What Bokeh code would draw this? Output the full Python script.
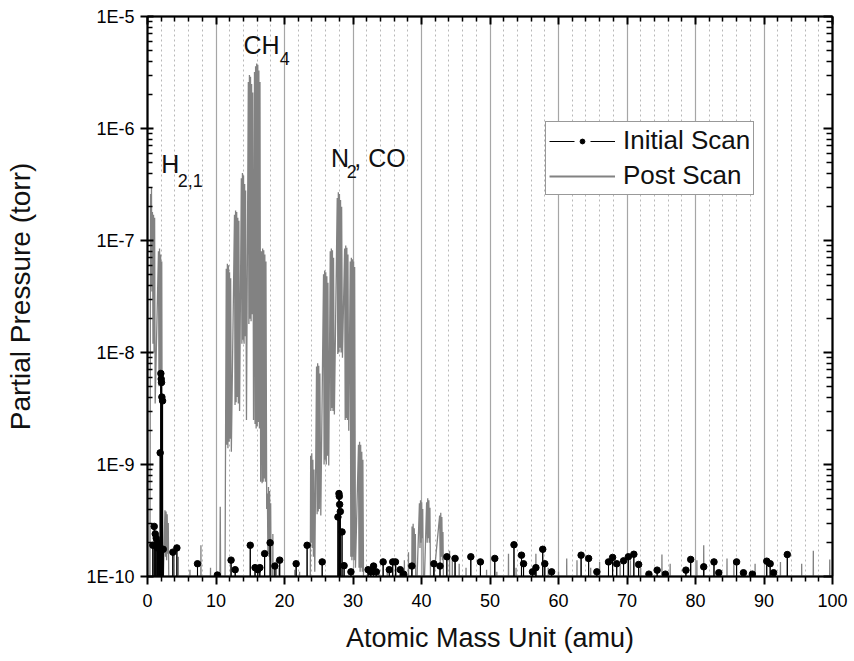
from bokeh.plotting import figure
from bokeh.models import (FixedTicker, LogAxis, LinearAxis, Legend, LegendItem,
                          CustomJSTickFormatter, Label, Range1d)
from bokeh.embed import file_html
from bokeh.resources import INLINE

FLOOR = 5e-11  # readings below the 1E-10 display limit of the chart

# ---------------- Initial scan (visible readings) ----------------
init_amu = [0.78, 0.98, 1.13, 1.27, 1.45, 1.61, 1.76, 1.85, 1.95, 2.0,
            2.05, 2.1, 2.2, 2.3, 3.7, 4.29, 7.3, 10.2, 12.2, 12.8,
            15.0, 15.7, 16.1, 16.4, 17.1, 17.9, 18.6, 19.3, 21.7, 23.3,
            25.5, 27.8, 27.95, 28.0, 28.05, 28.15, 28.4, 28.7, 29.7, 32.2,
            32.6, 33.0, 33.4, 34.4, 35.3, 35.8, 36.2, 36.9, 37.4, 38.6,
            41.8, 42.7, 43.7, 44.9, 47.2, 48.6, 50.7, 53.5, 54.6, 54.9,
            56.2, 56.7, 57.7, 58.0, 59.0, 63.3, 64.4, 65.6, 67.3, 67.9,
            68.5, 69.5, 70.2, 71.0, 71.7, 73.2, 74.4, 75.6, 78.6, 79.3,
            81.2, 82.7, 83.4, 86.0, 87.0, 88.3, 90.4, 90.9, 91.4, 93.4]
init_torr = [1.9e-10, 2.8e-10, 2.4e-10, 2.2e-10, 1.8e-10, 2.0e-10, 1.8e-10, 1.27e-9, 6.5e-9, 5.8e-9,
             5.4e-9, 4.0e-9, 3.7e-9, 1.75e-10, 1.65e-10, 1.8e-10, 1.3e-10, 1.03e-10, 1.4e-10, 1.15e-10,
             1.9e-10, 1.2e-10, 1.15e-10, 1.2e-10, 1.6e-10, 2.0e-10, 1.24e-10, 1.4e-10, 1.3e-10, 1.9e-10,
             1.35e-10, 3.4e-10, 5.5e-10, 5.2e-10, 4.4e-10, 3.8e-10, 2.5e-10, 1.25e-10, 1.1e-10, 1.15e-10,
             1.1e-10, 1.24e-10, 1.1e-10, 1.35e-10, 1.15e-10, 1.35e-10, 1.35e-10, 1.15e-10, 1.05e-10, 1.24e-10,
             1.3e-10, 1.24e-10, 1.5e-10, 1.45e-10, 1.5e-10, 1.35e-10, 1.45e-10, 1.92e-10, 1.55e-10, 1.3e-10,
             1.1e-10, 1.2e-10, 1.75e-10, 1.3e-10, 1.1e-10, 1.55e-10, 1.45e-10, 1.1e-10, 1.35e-10, 1.48e-10,
             1.3e-10, 1.38e-10, 1.5e-10, 1.58e-10, 1.28e-10, 1.05e-10, 1.14e-10, 1.05e-10, 1.14e-10, 1.42e-10,
             1.22e-10, 1.35e-10, 1.08e-10, 1.35e-10, 1.08e-10, 1.05e-10, 1.37e-10, 1.3e-10, 1.08e-10, 1.57e-10]

# ---------------- Post scan (dense readings around the gas peaks) ----------------
post_h_amu = [0.35, 0.45, 0.52, 0.58, 0.65, 0.72, 0.8, 0.88, 0.96, 1.04,
              1.12, 1.6, 1.68, 1.76, 1.84, 1.92, 2.0, 2.08, 2.2, 2.55,
              2.63, 2.71, 2.79, 2.87, 2.95, 3.03, 3.15]
post_h_torr = [FLOOR, 2.6e-7, 4.0e-8, 3.0e-7, 3.5e-8, 1.8e-7, 1.2e-8, 1.7e-7, 1.0e-8, 1.6e-7,
               3.5e-9, 8.0e-8, 5.0e-9, 8.5e-8, 6.0e-9, 7.5e-8, 4.5e-9, 6.5e-8, FLOOR, 3.9e-10,
               1.5e-10, 3.8e-10, 1.4e-10, 3.6e-10, 1.6e-10, 3.0e-10, FLOOR]

post_ch4_amu = [10.55, 10.62, 10.7, 11.3, 11.4, 11.5, 11.58, 11.66, 11.74, 11.82,
                11.9, 11.98, 12.06, 12.14, 12.24, 12.7, 12.78, 12.86, 12.94, 13.02,
                13.1, 13.18, 13.26, 13.34, 13.44, 13.7, 13.78, 13.86, 13.94, 14.02,
                14.1, 14.18, 14.26, 14.32, 14.45, 14.72, 14.8, 14.88, 14.96, 15.04,
                15.12, 15.2, 15.28, 15.36, 15.48, 15.62, 15.7, 15.78, 15.86, 15.94,
                16.02, 16.1, 16.18, 16.26, 16.34, 16.42, 16.52, 16.65, 16.73, 16.81,
                16.89, 16.97, 17.05, 17.13, 17.21, 17.29, 17.4, 17.5, 17.58, 17.66,
                17.74, 17.82, 17.9, 17.98, 18.08]
post_ch4_torr = [FLOOR, 4.2e-10, FLOOR, FLOOR, 2.0e-9, 5.6e-8, 1.5e-9, 6.2e-8, 1.4e-9, 6.0e-8,
                 1.6e-9, 5.2e-8, 1.7e-9, 4.6e-8, 1.3e-9, 1.7e-7, 3.4e-9, 1.85e-7, 3.6e-9, 1.8e-7,
                 4.0e-9, 1.6e-7, 3.5e-9, 1.5e-7, 3.0e-9, 3.6e-7, 1.2e-8, 4.0e-7, 1.3e-8, 3.8e-7,
                 1.2e-8, 3.2e-7, 1.4e-8, 2.8e-7, 2.5e-9, 2.6e-6, 1.8e-8, 3.0e-6, 2.0e-8, 2.9e-6,
                 1.9e-8, 2.5e-6, 2.2e-8, 2.1e-6, 2.5e-9, 3.2e-6, 2.3e-9, 3.6e-6, 2.1e-9, 3.8e-6,
                 2.2e-9, 3.7e-6, 2.4e-9, 3.3e-6, 2.1e-9, 2.6e-6, 7.0e-10, 8.0e-8, 6.8e-10, 8.5e-8,
                 7.0e-10, 8.2e-8, 7.5e-10, 7.5e-8, 7.0e-10, 6.5e-8, 4.0e-10, 5.5e-10, 1.6e-10, 6.3e-10,
                 1.5e-10, 5.8e-10, 1.4e-10, 4.5e-10, FLOOR]

post_n2_amu = [23.75, 23.82, 23.9, 23.98, 24.06, 24.14, 24.22, 24.3, 24.42, 24.68,
               24.76, 24.84, 24.92, 25.0, 25.08, 25.16, 25.3, 25.7, 25.78, 25.86,
               25.94, 26.02, 26.1, 26.18, 26.26, 26.34, 26.46, 26.68, 26.76, 26.84,
               26.92, 27.0, 27.08, 27.16, 27.28, 27.7, 27.78, 27.86, 27.94, 28.02,
               28.1, 28.18, 28.26, 28.34, 28.46, 28.78, 28.86, 28.94, 29.02, 29.1,
               29.18, 29.26, 29.38, 29.6, 29.68, 29.76, 29.84, 29.92, 30.0, 30.08,
               30.16, 30.24, 30.36, 30.8, 30.88, 30.96, 31.04, 31.12, 31.2, 31.28,
               31.36, 31.44, 31.56]
post_n2_torr = [FLOOR, 1.2e-9, 2.0e-10, 1.26e-9, 1.8e-10, 1.1e-9, 1.5e-10, 9.0e-10, 1.1e-10, 7.5e-9,
                3.6e-10, 8.0e-9, 3.8e-10, 7.6e-9, 4.0e-10, 6.5e-9, 3.5e-10, 5.0e-8, 1.0e-9, 5.4e-8,
                1.1e-9, 5.2e-8, 1.0e-9, 4.8e-8, 1.2e-9, 4.2e-8, 9.8e-10, 8.0e-8, 3.0e-9, 8.5e-8,
                3.2e-9, 8.2e-8, 3.0e-9, 7.0e-8, 2.8e-9, 2.4e-7, 9.7e-9, 2.7e-7, 1.0e-8, 2.6e-7,
                1.1e-8, 2.3e-7, 1.0e-8, 2.0e-7, 9.0e-9, 8.5e-8, 2.5e-9, 9.0e-8, 2.6e-9, 8.6e-8,
                2.5e-9, 7.5e-8, 2.0e-9, 6.5e-8, 1.5e-10, 7.0e-8, 1.4e-10, 6.8e-8, 1.5e-10, 6.5e-8,
                1.4e-10, 5.8e-8, 1.2e-10, 1.5e-9, 1.2e-10, 1.6e-9, 1.1e-10, 1.5e-9, 1.2e-10, 1.3e-9,
                1.1e-10, 1.1e-9, FLOOR]

post_ar_amu = [38.55, 38.62, 38.7, 38.78, 38.86, 38.94, 39.02, 39.1, 39.2, 39.7,
               39.78, 39.86, 39.94, 40.02, 40.1, 40.18, 40.3, 40.75, 40.83, 40.91,
               40.99, 41.07, 41.15, 41.23, 41.35, 42.65, 42.73, 42.81, 42.89, 42.97,
               43.05, 43.13, 43.25]
post_ar_torr = [FLOOR, 2.8e-10, 1.2e-10, 2.95e-10, 1.3e-10, 2.7e-10, 1.2e-10, 2.4e-10, FLOOR, 4.5e-10,
                1.8e-10, 4.8e-10, 2.0e-10, 4.6e-10, 2.2e-10, 4.0e-10, FLOOR, 4.6e-10, 2.0e-10, 5.0e-10,
                2.2e-10, 4.8e-10, 2.0e-10, 4.1e-10, FLOOR, 3.5e-10, 1.3e-10, 3.7e-10, 1.5e-10, 3.4e-10,
                1.4e-10, 2.5e-10, FLOOR]

post_spike_amu = [3.9, 4.5, 6.2, 7.8, 9.2, 18.3, 18.8, 19.2, 21.5, 22.2,
                  32.5, 33.8, 35.0, 36.3, 37.5, 38.1, 44.1, 44.5, 45.5, 46.5,
                  49.5, 51.0, 52.7, 53.8, 56.7, 58.5, 60.0, 61.2, 62.7, 64.7,
                  66.0, 69.0, 70.5, 72.0, 75.1, 76.3, 80.2, 81.2, 84.6, 85.6,
                  88.7, 92.4, 95.5, 97.2, 99.6]
post_spike_torr = [1.7e-10, 1.5e-10, 1.15e-10, 1.9e-10, 1.2e-10, 2.4e-10, 1.4e-10, 1.2e-10, 1.15e-10, 1.1e-10,
                   1.2e-10, 1.15e-10, 1.2e-10, 1.25e-10, 1.4e-10, 1.65e-10, 1.7e-10, 1.5e-10, 1.3e-10, 1.2e-10,
                   1.15e-10, 1.1e-10, 1.6e-10, 1.2e-10, 1.6e-10, 1.2e-10, 1.1e-10, 1.45e-10, 1.4e-10, 1.2e-10,
                   1.35e-10, 1.3e-10, 1.4e-10, 1.2e-10, 1.57e-10, 1.3e-10, 1.4e-10, 1.9e-10, 1.45e-10, 1.4e-10,
                   1.3e-10, 1.35e-10, 1.3e-10, 1.7e-10, 1.42e-10]

# ---------------- Axes / labels ----------------
x_major = [0, 10, 20, 30, 40, 50, 60, 70, 80, 90, 100]
x_minor = [v for v in range(2, 100, 2) if v % 10]
y_major = [1e-10, 1e-9, 1e-8, 1e-7, 1e-6, 1e-5]
y_minor = [m * d for d in y_major[:-1] for m in range(2, 10)]

ann_main = ["H", "CH", "N", ", CO"]
ann_main_amu = [2.0, 14.0, 26.8, 30.2]
ann_main_torr = [4.85e-7, 5.6e-6, 5.5e-7, 5.5e-7]
ann_sub = ["2,1", "4", "2"]
ann_sub_amu = [4.4, 19.3, 29.1]
ann_sub_torr = [3.4e-7, 4.2e-6, 4.1e-7]

FONT = "Liberation Sans"
DELTA = 0.04

# build lines: scan readings drop below the display floor between readings
init_x, init_y = [], []
for a, v in zip(init_amu, init_torr):
    init_x += [a - DELTA, a, a + DELTA]
    init_y += [FLOOR, v, FLOOR]

segments = [(post_h_amu, post_h_torr), (post_ch4_amu, post_ch4_torr),
            (post_n2_amu, post_n2_torr), (post_ar_amu, post_ar_torr)]
for a, v in zip(post_spike_amu, post_spike_torr):
    segments.append(([a - DELTA, a, a + DELTA], [FLOOR, v, FLOOR]))
segments.sort(key=lambda s: s[0][0])
post_x, post_y = [], []
for xs, ys in segments:
    post_x += list(xs)
    post_y += list(ys)

p = figure(width=854, height=661, x_range=Range1d(0, 100), y_range=Range1d(1e-10, 1e-5),
           y_axis_type="log", output_backend="svg", toolbar_location=None,
           min_border_left=147, min_border_right=22, min_border_top=16, min_border_bottom=85)
p.outline_line_color = "black"
p.outline_line_width = 1.5
p.background_fill_color = "white"
p.border_fill_color = "white"

xt = FixedTicker(ticks=x_major, minor_ticks=x_minor)
yt = FixedTicker(ticks=y_major, minor_ticks=y_minor)

p.xgrid.ticker = xt
p.xgrid.grid_line_color = "#a6a6a6"
p.xgrid.grid_line_width = 1.2
p.xgrid.minor_grid_line_color = "#b8b8b8"
p.xgrid.minor_grid_line_dash = "2 3"
p.xgrid.minor_grid_line_width = 1
p.ygrid.visible = False

xa = p.xaxis[0]
xa.ticker = xt
xa.axis_label = "Atomic Mass Unit (amu)"
ya = p.yaxis[0]
ya.ticker = yt
ya.formatter = CustomJSTickFormatter(code="return '1E' + Math.round(Math.log10(tick));")
ya.axis_label = "Partial Pressure (torr)"

for ax in (xa, ya):
    ax.axis_line_width = 2
    ax.major_tick_line_width = 2
    ax.minor_tick_line_width = 1.5
    ax.major_label_text_font = FONT
    ax.major_label_text_font_size = "18px"
    ax.major_label_text_color = "black"
    ax.axis_label_text_font = FONT
    ax.axis_label_text_font_style = "normal"
    ax.axis_label_text_color = "#111111"

xa.axis_label_text_font_size = "27px"
ya.axis_label_text_font_size = "28px"

xa.major_tick_out = 8
xa.major_tick_in = 0
xa.minor_tick_out = 5
xa.minor_tick_in = 0
xa.major_label_standoff = 9
xa.axis_label_standoff = 13

ya.major_tick_out = 7
ya.major_tick_in = 6
ya.minor_tick_out = 0
ya.minor_tick_in = 5
ya.major_label_standoff = 6
ya.axis_label_standoff = 47

blank = CustomJSTickFormatter(code="return '';")
top = LinearAxis(ticker=xt, formatter=blank, major_tick_in=8, major_tick_out=0,
                 minor_tick_in=5, minor_tick_out=0, major_label_standoff=0,
                 major_label_text_font_size="0px", axis_line_width=2,
                 major_tick_line_width=2, minor_tick_line_width=1.5)
right = LogAxis(ticker=yt, formatter=blank, major_tick_in=9, major_tick_out=0,
                minor_tick_in=6, minor_tick_out=0, major_label_standoff=0,
                major_label_text_font_size="0px", axis_line_width=2,
                major_tick_line_width=2, minor_tick_line_width=1.5)
p.add_layout(top, "above")
p.add_layout(right, "right")

POST_COLOR = "#828282"
p.line(post_x, post_y, line_color=POST_COLOR, line_width=1.3)
p.line(init_x, init_y, line_color="black", line_width=1)
p.scatter(init_amu, init_torr, size=6.5, color="black")

# legend-only glyphs, placed outside the visible x range
leg_x = [-20, -10]
leg_y = [1e-7, 1e-7]
leg_line = p.line(leg_x, leg_y, line_color="black", line_width=1.2, line_dash="25 16")
leg_dot = p.scatter(leg_x, leg_y, color="black", size=5)
leg_post = p.line(leg_x, leg_y, line_color=POST_COLOR, line_width=1.8)

legend = Legend(items=[LegendItem(label="Initial Scan", renderers=[leg_line, leg_dot]),
                       LegendItem(label="Post Scan", renderers=[leg_post])],
                location=(398, 381), orientation="vertical",
                label_text_font=FONT, label_text_font_size="26px", label_text_color="#111111",
                glyph_width=66, glyph_height=12, label_standoff=8, padding=3, spacing=4,
                margin=0, border_line_color="#333333", border_line_width=1,
                background_fill_color="white", background_fill_alpha=1)
p.add_layout(legend, "center")

for t, a, v in zip(ann_main, ann_main_amu, ann_main_torr):
    p.add_layout(Label(x=a, y=v, text=t, text_font=FONT, text_font_size="25px",
                       text_color="#111111", text_baseline="alphabetic"))
for t, a, v in zip(ann_sub, ann_sub_amu, ann_sub_torr):
    p.add_layout(Label(x=a, y=v, text=t, text_font=FONT, text_font_size="18px",
                       text_color="#111111", text_baseline="alphabetic"))

open("out.html", "w").write(file_html(p, INLINE))
